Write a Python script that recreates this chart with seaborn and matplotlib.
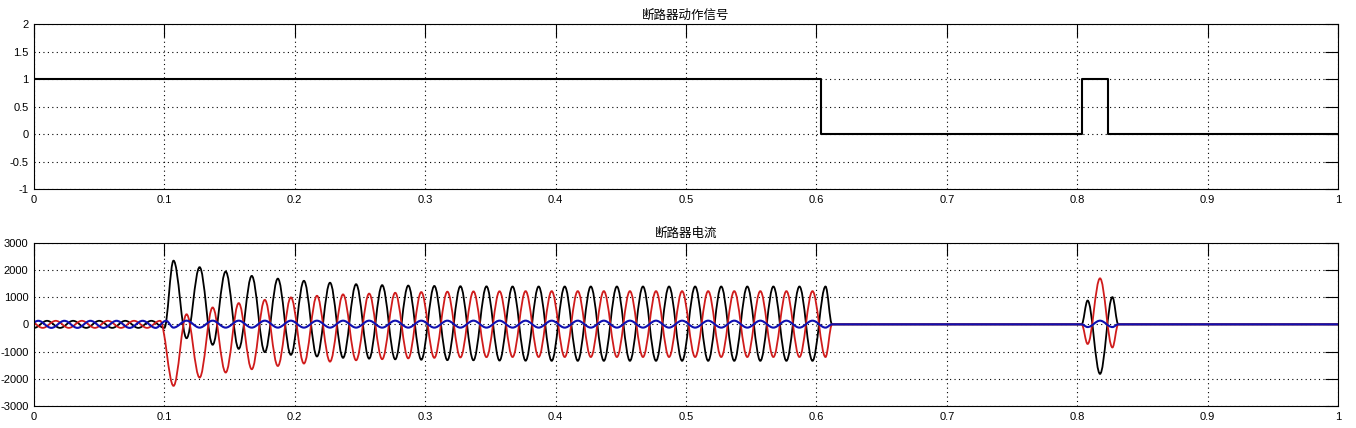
import matplotlib
matplotlib.use("Agg")
import matplotlib.pyplot as plt
from matplotlib.path import Path
from matplotlib.patches import PathPatch
import seaborn as sns

# ---------------- data ----------------
# breaker action signal (step levels)
sig_t = [0.0, 0.6035, 0.8034, 0.824, 1.0]
sig_v = [1, 0, 1, 0, 0]

# pre-fault extremes (peaks / troughs) of the three phase currents
pre_black_t = [0.00, 0.01, 0.02, 0.03, 0.04, 0.05, 0.06, 0.07, 0.08, 0.09, 0.10]
pre_black_v = [-130, 130, -130, 130, -130, 130, -130, 130, -130, 130, -130]
pre_red_t = [-0.0033, 0.0067, 0.0167, 0.0267, 0.0367, 0.0467, 0.0567, 0.0667, 0.0767, 0.0867, 0.0967]
pre_red_v = [130, -130, 130, -130, 130, -130, 130, -130, 130, -130, 130]
pre_blue_t = [-0.0067, 0.0033, 0.0133, 0.0233, 0.0333, 0.0433, 0.0533, 0.0633, 0.0733, 0.0833, 0.0933, 0.1013]
pre_blue_v = [-130, 130, -130, 130, -130, 130, -130, 130, -130, 130, -130, 130]

# fault period extremes (shared instants)
fault_t = [0.107, 0.117, 0.127, 0.137, 0.147, 0.157, 0.167, 0.177, 0.187, 0.197,
           0.207, 0.217, 0.227, 0.237, 0.247, 0.257, 0.267, 0.277, 0.287, 0.297,
           0.307, 0.317, 0.327, 0.337, 0.347, 0.357, 0.367, 0.377, 0.387, 0.397,
           0.407, 0.417, 0.427, 0.437, 0.447, 0.457, 0.467, 0.477, 0.487, 0.497,
           0.507, 0.517, 0.527, 0.537, 0.547, 0.557, 0.567, 0.577, 0.587, 0.597,
           0.607]
fault_black = [2340, -510, 2100, -750, 1940, -900, 1780, -1020, 1680, -1120,
               1600, -1180, 1530, -1230, 1475, -1260, 1440, -1285, 1425, -1300,
               1410, -1315, 1400, -1320, 1395, -1330, 1390, -1335, 1390, -1340,
               1390, -1340, 1390, -1340, 1390, -1340, 1390, -1340, 1390, -1340,
               1390, -1340, 1390, -1340, 1390, -1340, 1390, -1340, 1390, -1340,
               1390]
fault_red = [-2260, 370, -1955, 620, -1770, 780, -1650, 900, -1530, 990,
             -1440, 1050, -1370, 1100, -1320, 1130, -1280, 1160, -1250, 1185,
             -1230, 1200, -1215, 1210, -1205, 1215, -1200, 1220, -1200, 1220,
             -1200, 1220, -1200, 1220, -1200, 1220, -1200, 1220, -1200, 1220,
             -1200, 1220, -1200, 1220, -1200, 1220, -1200, 1220, -1200, 1220,
             -1200]
fault_blue = [-120, 135, -120, 135, -120, 135, -120, 135, -120, 135,
              -120, 135, -120, 135, -120, 135, -120, 135, -120, 135,
              -120, 135, -120, 135, -120, 135, -120, 135, -120, 135,
              -120, 135, -120, 135, -120, 135, -120, 135, -120, 135,
              -120, 135, -120, 135, -120, 135, -120, 135, -120, 135,
              -120]

# breaker open: currents at zero
open_t = [0.612, 0.8034]
open_v = [0, 0]

# re-closing burst
reclose_t = [0.808, 0.8175, 0.827, 0.8315, 1.0]
reclose_black = [875, -1820, 1000, 0, 0]
reclose_red = [-720, 1690, -850, 0, 0]
reclose_blue = [-100, 135, -100, 0, 0]

x_ticks = [0, 0.1, 0.2, 0.3, 0.4, 0.5, 0.6, 0.7, 0.8, 0.9, 1.0]
x_labels = ["0", "0.1", "0.2", "0.3", "0.4", "0.5", "0.6", "0.7", "0.8", "0.9", "1"]
y1_ticks = [-1, -0.5, 0, 0.5, 1, 1.5, 2]
y1_labels = ["-1", "-0.5", "0", "0.5", "1", "1.5", "2"]
y2_ticks = [-3000, -2000, -1000, 0, 1000, 2000, 3000]
y2_labels = ["-3000", "-2000", "-1000", "0", "1000", "2000", "3000"]

title1 = "断路器动作信号"
title2 = "断路器电流"

# ---------------- style ----------------
sns.set_theme(style="white")
plt.rcParams["font.family"] = ["Liberation Sans", "Noto Sans CJK SC", "DejaVu Sans"]

fig = plt.figure(figsize=(13.56, 4.28), dpi=100)
fig.patch.set_facecolor("white")

W, H = 1356, 428
ax1 = fig.add_axes([34 / W, 1 - 189.3 / H, 1304 / W, 165.3 / H])
ax2 = fig.add_axes([34 / W, 1 - 406 / H, 1304 / W, 163.3 / H])


def style_axes(ax, yticks, ylabels, ylim, title):
    ax.set_xlim(0, 1)
    ax.set_ylim(*ylim)
    ax.set_xticks(x_ticks)
    ax.set_xticklabels(x_labels)
    ax.set_yticks(yticks)
    ax.set_yticklabels(ylabels)
    ax.set_facecolor("white")
    ax.grid(True, color="black", linestyle=(0, (1, 3)), linewidth=0.8)
    ax.tick_params(direction="in", length=9.4, width=0.8, top=True, right=True,
                   labelsize=8, pad=4, colors="black")
    for s in ax.spines.values():
        s.set_visible(True)
        s.set_color("black")
        s.set_linewidth(0.8)
    ax.set_xlabel("")
    ax.set_ylabel("")
    ax.set_title(title, fontsize=9, family=["Noto Sans CJK SC"], pad=4, color="black")


# top: breaker action signal
sns.lineplot(x=sig_t, y=sig_v, ax=ax1, color="black", linewidth=1.5,
             drawstyle="steps-post", estimator=None, sort=False)
style_axes(ax1, y1_ticks, y1_labels, (-1, 2), title1)

# bottom: currents drawn as smooth curves through the read extremes
K = 0.3634


def smooth_path(ts, vs):
    verts = [(ts[0], vs[0])]
    codes = [Path.MOVETO]
    for i in range(1, len(ts)):
        t0, v0, t1, v1 = ts[i - 1], vs[i - 1], ts[i], vs[i]
        dt = t1 - t0
        verts += [(t0 + K * dt, v0), (t1 - K * dt, v1), (t1, v1)]
        codes += [Path.CURVE4] * 3
    return Path(verts, codes)


series = [
    (pre_black_t, pre_black_v, fault_black, reclose_black, "#000000", 1.3),
    (pre_red_t, pre_red_v, fault_red, reclose_red, "#D01C1C", 1.3),
    (pre_blue_t, pre_blue_v, fault_blue, reclose_blue, "#1010B0", 1.5),
]
for pt, pv, fv, rv, col, lw in series:
    ts = list(pt) + list(fault_t) + list(open_t) + list(reclose_t)
    vs = list(pv) + list(fv) + list(open_v) + list(rv)
    patch = PathPatch(smooth_path(ts, vs), facecolor="none", edgecolor=col,
                      linewidth=lw, transform=ax2.transData, clip_on=True)
    ax2.add_patch(patch)

style_axes(ax2, y2_ticks, y2_labels, (-3000, 3000), title2)

fig.savefig("out.png", dpi=100, facecolor="white")
